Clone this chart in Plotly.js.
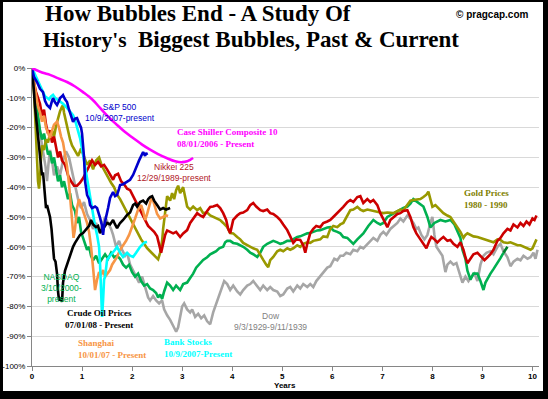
<!DOCTYPE html>
<html><head><meta charset="utf-8">
<script src="https://cdn.plot.ly/plotly-3.0.1.min.js"></script>
<style>
html,body{margin:0;padding:0;background:#000;width:548px;height:399px;overflow:hidden;}
#chart{position:absolute;left:3px;top:2px;width:540px;height:389px;background:#fff;}
</style></head>
<body><div id="chart"></div>
<script>
// ---- data: [years after peak, % change from peak] ----
const yTickVals = [0,-10,-20,-30,-40,-50,-60,-70,-80,-90,-100];
const yTickText = ['0%','-10%','-20%','-30%','-40%','-50%','-60%','-70%','-80%','-90%','-100%'];
const xTickVals = [0,1,2,3,4,5,6,7,8,9,10];

const dow = [[0,0],[0.04,-8],[0.1,-15],[0.16,-22],[0.22,-28],[0.27,-33],[0.3,-38],[0.33,-32],[0.36,-27.5],[0.4,-31],[0.44,-36],[0.5,-33],[0.56,-36],[0.62,-31],[0.68,-28],[0.74,-30],[0.8,-35],[0.86,-40],[0.92,-44],[0.98,-47],[1.04,-45],[1.1,-49],[1.16,-51],[1.22,-54],[1.28,-52],[1.34,-55],[1.4,-53],[1.46,-50],[1.52,-52],[1.58,-54],[1.62,-56],[1.68,-60],[1.74,-58],[1.8,-61],[1.86,-63],[1.9,-62],[1.96,-66],[2.02,-68],[2.08,-70],[2.14,-72],[2.2,-70],[2.26,-74],[2.32,-77],[2.36,-78],[2.42,-76.5],[2.48,-78],[2.54,-79],[2.6,-78],[2.64,-81],[2.7,-83],[2.76,-84.5],[2.82,-86.5],[2.88,-88.5],[2.92,-87],[2.96,-84],[3.0,-80],[3.04,-79],[3.1,-81],[3.16,-82],[3.2,-81],[3.26,-83.5],[3.32,-82.5],[3.38,-84],[3.44,-83],[3.5,-85],[3.56,-86],[3.62,-82],[3.68,-79],[3.72,-77],[3.78,-74],[3.84,-71.5],[3.9,-72.5],[3.96,-74.5],[4.02,-73],[4.1,-75],[4.16,-76],[4.22,-74.5],[4.3,-73],[4.36,-72.5],[4.42,-71.5],[4.5,-73],[4.56,-74.5],[4.62,-73],[4.7,-74.5],[4.76,-73.5],[4.82,-74.5],[4.9,-75],[4.96,-76.5],[5.02,-76],[5.1,-74],[5.16,-73.5],[5.22,-75],[5.3,-73],[5.36,-74],[5.42,-72.5],[5.5,-73.5],[5.56,-72.5],[5.62,-73.5],[5.68,-71.5],[5.76,-70],[5.82,-68.5],[5.9,-67],[5.96,-66.5],[6.04,-64],[6.1,-64.5],[6.16,-63],[6.22,-63],[6.28,-62],[6.36,-62.5],[6.42,-61],[6.5,-61.5],[6.56,-60],[6.62,-60.5],[6.7,-59],[6.76,-58],[6.82,-57],[6.9,-58],[6.96,-56],[7.02,-55],[7.08,-56],[7.16,-54],[7.22,-53],[7.3,-52],[7.36,-50.5],[7.42,-51.5],[7.5,-49.5],[7.56,-50.5],[7.62,-52],[7.68,-54],[7.72,-53.5],[7.78,-56],[7.84,-57.5],[7.9,-56],[7.96,-52],[8.0,-50],[8.04,-56],[8.08,-60],[8.14,-61.5],[8.2,-63],[8.26,-68.5],[8.3,-66],[8.36,-65],[8.42,-66],[8.48,-65.5],[8.54,-69],[8.6,-72],[8.66,-70],[8.72,-71.5],[8.78,-70],[8.84,-69],[8.9,-71.5],[8.96,-66],[9.02,-63],[9.08,-62],[9.16,-61.5],[9.22,-62.5],[9.3,-60],[9.36,-59],[9.42,-61.5],[9.5,-63.5],[9.56,-66.5],[9.62,-65],[9.7,-64],[9.76,-64.5],[9.82,-63],[9.9,-64],[9.96,-63.5],[10.02,-62],[10.06,-64],[10.1,-61]];

const nasdaq = [[0,0],[0.04,-6],[0.08,-12],[0.12,-16],[0.16,-21],[0.2,-24],[0.24,-22],[0.28,-26],[0.32,-29],[0.36,-28],[0.4,-32],[0.44,-30],[0.48,-34],[0.52,-38],[0.56,-36],[0.6,-40],[0.64,-38],[0.68,-41],[0.72,-44],[0.76,-42],[0.8,-46],[0.86,-48],[0.9,-52],[0.94,-50],[0.98,-55],[1.02,-57],[1.06,-59],[1.1,-61],[1.14,-60],[1.18,-63],[1.22,-64.5],[1.28,-63],[1.34,-65.5],[1.4,-64],[1.46,-62.5],[1.52,-64],[1.58,-62],[1.64,-63.5],[1.7,-63],[1.76,-64],[1.82,-66],[1.88,-67],[1.94,-66],[2.0,-68.5],[2.06,-70],[2.12,-69],[2.18,-71.5],[2.24,-73],[2.3,-72.5],[2.36,-74],[2.42,-74.5],[2.48,-75.5],[2.52,-77],[2.56,-76],[2.6,-77.5],[2.64,-75],[2.7,-72],[2.76,-73],[2.82,-74.5],[2.88,-73],[2.96,-74.5],[3.02,-72.5],[3.1,-72],[3.16,-70.5],[3.22,-69],[3.28,-67],[3.34,-66],[3.42,-64.4],[3.5,-63.5],[3.56,-62.5],[3.62,-62],[3.68,-61.5],[3.74,-60.5],[3.82,-60],[3.86,-58.5],[3.9,-58],[3.96,-58],[4.02,-58.7],[4.1,-59],[4.16,-59.5],[4.22,-60],[4.3,-61],[4.36,-62],[4.42,-62.5],[4.5,-63.4],[4.56,-62],[4.62,-60],[4.7,-59],[4.76,-58.5],[4.82,-58],[4.9,-58.5],[4.96,-59],[5.02,-58.7],[5.1,-58],[5.16,-58],[5.22,-57.5],[5.3,-56.7],[5.36,-56.5],[5.42,-56],[5.5,-55.5],[5.56,-55.4],[5.62,-55],[5.7,-54.5],[5.76,-54.4],[5.82,-54],[5.9,-53.5],[5.96,-53.4],[6.02,-54.5],[6.1,-55],[6.16,-55.5],[6.22,-56.7],[6.3,-57],[6.36,-58],[6.42,-59],[6.5,-57.5],[6.56,-56.5],[6.62,-55.5],[6.72,-53],[6.82,-51],[6.9,-52],[6.96,-52.5],[7.02,-52],[7.1,-50],[7.2,-49],[7.3,-48],[7.42,-47],[7.5,-46.5],[7.56,-45.5],[7.62,-44],[7.7,-45],[7.76,-45.5],[7.82,-46.5],[7.9,-50],[7.96,-53.5],[8.04,-52],[8.1,-51.5],[8.16,-51],[8.26,-51.5],[8.36,-51],[8.44,-52.5],[8.5,-54.5],[8.56,-57],[8.6,-61],[8.66,-64],[8.7,-68],[8.76,-71],[8.82,-69],[8.9,-69],[8.96,-71.5],[9.02,-74.5],[9.06,-72],[9.12,-70],[9.16,-69],[9.22,-67.5],[9.3,-65.5],[9.36,-63.8],[9.42,-62]];
const nasdaqLatest = [[9.42,-62],[9.46,-61],[9.5,-60]];

const nikkei = [[0,0],[0.04,-5],[0.08,-8],[0.12,-10],[0.16,-12],[0.2,-16],[0.24,-14],[0.28,-19],[0.32,-22],[0.36,-21],[0.4,-25],[0.44,-23],[0.48,-27],[0.52,-30],[0.56,-28],[0.6,-31],[0.66,-32.5],[0.72,-36],[0.78,-38],[0.84,-39.5],[0.9,-39.5],[0.96,-38.5],[1.02,-37],[1.08,-35],[1.14,-33],[1.2,-31],[1.26,-32.5],[1.32,-31.5],[1.38,-33],[1.44,-32.5],[1.5,-34],[1.56,-36],[1.62,-37.5],[1.66,-36],[1.72,-35.5],[1.78,-38],[1.84,-39],[1.9,-40.5],[1.96,-41],[2.02,-43],[2.08,-45],[2.14,-47],[2.2,-49.5],[2.26,-51],[2.32,-53],[2.38,-54],[2.44,-55],[2.5,-56.5],[2.54,-59],[2.58,-62],[2.62,-59],[2.66,-56],[2.7,-54.5],[2.76,-55],[2.82,-55.5],[2.88,-55],[2.96,-56.7],[3.02,-55.5],[3.1,-54.4],[3.16,-52],[3.22,-50.5],[3.3,-48.7],[3.36,-49.5],[3.42,-50],[3.5,-48],[3.56,-46.6],[3.62,-46.5],[3.7,-46],[3.76,-47],[3.82,-48.7],[3.88,-51],[3.92,-54],[3.96,-55.4],[4.02,-51],[4.1,-49.5],[4.16,-48.7],[4.22,-48.5],[4.3,-47.7],[4.36,-46],[4.42,-45.3],[4.48,-46.5],[4.56,-47.7],[4.62,-48],[4.7,-47.5],[4.76,-48.7],[4.82,-49],[4.9,-50],[4.96,-51],[5.02,-52.5],[5.1,-54.4],[5.16,-56.5],[5.22,-58.7],[5.28,-57.5],[5.36,-57.7],[5.42,-59.5],[5.46,-62],[5.5,-59],[5.56,-55.4],[5.62,-54],[5.68,-53],[5.76,-53.4],[5.82,-52],[5.9,-51.5],[5.96,-51],[6.02,-50],[6.1,-48.7],[6.16,-47.5],[6.22,-46.6],[6.3,-45],[6.36,-44.3],[6.42,-45],[6.5,-43.3],[6.56,-43],[6.62,-45.3],[6.7,-44],[6.76,-45],[6.82,-44.3],[6.9,-46],[6.96,-48.7],[7.02,-50.5],[7.1,-53.4],[7.16,-51],[7.22,-50],[7.3,-49],[7.36,-48.7],[7.42,-48],[7.5,-47.7],[7.56,-50],[7.62,-53.4],[7.68,-55.5],[7.74,-57],[7.82,-59],[7.88,-60.5],[7.94,-58],[7.98,-56.7],[8.04,-57.5],[8.1,-58.5],[8.16,-57.5],[8.22,-56.7],[8.3,-58],[8.36,-57.7],[8.42,-59],[8.5,-60],[8.56,-58.5],[8.62,-61],[8.66,-63.5],[8.7,-65.5],[8.76,-64],[8.82,-62.5],[8.9,-62],[8.96,-63],[9.04,-64.5],[9.1,-63.5],[9.16,-62.5],[9.22,-61],[9.3,-58],[9.36,-57],[9.42,-55.5],[9.5,-54],[9.56,-54.5],[9.62,-52.5],[9.7,-53.5],[9.76,-52],[9.82,-53],[9.88,-51.5],[9.94,-52.5],[10.0,-50.5],[10.04,-51],[10.08,-49.5]];

const gold = [[0,0],[0.02,-3],[0.04,-8],[0.06,-15],[0.08,-25],[0.1,-33],[0.12,-38],[0.14,-40.5],[0.16,-37],[0.18,-30],[0.2,-26],[0.24,-27.5],[0.28,-24],[0.32,-25],[0.36,-22],[0.4,-21],[0.44,-23],[0.48,-19.5],[0.52,-17],[0.56,-14.5],[0.6,-13],[0.62,-12.5],[0.64,-15],[0.68,-18],[0.72,-21.5],[0.76,-24],[0.8,-26],[0.86,-28],[0.92,-29.5],[0.98,-27],[1.04,-30],[1.1,-32.5],[1.16,-31],[1.22,-34],[1.28,-31],[1.34,-30],[1.4,-33],[1.46,-35],[1.52,-37],[1.58,-38.5],[1.64,-40],[1.7,-42.5],[1.76,-44],[1.82,-46],[1.88,-47.5],[1.94,-49.5],[2.0,-51.5],[2.06,-54],[2.12,-56],[2.18,-57.5],[2.24,-59],[2.3,-60.5],[2.36,-61.5],[2.42,-62.5],[2.48,-63.5],[2.52,-64.2],[2.56,-62],[2.6,-58],[2.62,-54],[2.66,-48],[2.7,-43],[2.76,-44.5],[2.8,-42],[2.84,-44],[2.88,-41],[2.92,-39.5],[2.96,-42],[3.02,-40],[3.06,-43],[3.1,-46.5],[3.16,-47.5],[3.22,-46.5],[3.3,-47.7],[3.36,-47],[3.42,-48.7],[3.5,-48.5],[3.56,-49.5],[3.62,-50],[3.7,-50.5],[3.76,-51],[3.82,-52],[3.9,-53.4],[3.96,-55.4],[4.02,-55.5],[4.1,-56.7],[4.16,-57.5],[4.22,-58.7],[4.3,-59.5],[4.36,-60],[4.42,-60.5],[4.5,-61],[4.56,-62.5],[4.62,-64.4],[4.68,-66],[4.72,-66.8],[4.76,-64.5],[4.82,-63.4],[4.9,-61.5],[4.96,-61],[5.02,-61.5],[5.1,-60.5],[5.16,-61],[5.22,-60.5],[5.3,-59.5],[5.36,-60],[5.42,-59],[5.5,-58.5],[5.56,-58.7],[5.62,-58],[5.7,-57.7],[5.76,-57.5],[5.82,-56.5],[5.9,-56.7],[5.96,-54],[6.02,-53],[6.1,-53.4],[6.16,-52.5],[6.22,-52],[6.3,-49.5],[6.36,-47.7],[6.42,-47.5],[6.5,-46.6],[6.56,-47.5],[6.62,-48],[6.7,-47.5],[6.82,-48],[6.9,-48.5],[6.96,-48.5],[7.02,-48.7],[7.1,-48.5],[7.22,-48.7],[7.3,-48],[7.36,-47.5],[7.42,-47.7],[7.5,-46],[7.56,-44.5],[7.62,-44.3],[7.7,-44],[7.76,-44],[7.82,-43.3],[7.88,-42.5],[7.92,-41.5],[7.96,-44],[8.0,-46.6],[8.06,-46],[8.1,-46.6],[8.16,-47.5],[8.22,-48.7],[8.3,-49.5],[8.36,-50],[8.42,-51.5],[8.5,-53.4],[8.56,-55],[8.62,-57],[8.66,-56],[8.7,-55.5],[8.76,-56],[8.82,-56.5],[8.9,-56.7],[8.96,-57],[9.02,-57.5],[9.1,-57.7],[9.16,-58],[9.22,-58.5],[9.3,-57.5],[9.36,-57.7],[9.42,-58.5],[9.5,-58.7],[9.56,-58.5],[9.62,-59],[9.7,-59.5],[9.76,-59.5],[9.82,-60],[9.9,-60.5],[9.96,-61],[10.0,-60.5],[10.04,-59],[10.08,-57.5]];

const crude = [[0,0],[0.02,-3],[0.04,-8],[0.06,-13],[0.08,-16],[0.1,-19],[0.12,-23],[0.14,-27],[0.16,-29],[0.18,-33],[0.2,-36],[0.22,-35],[0.24,-40],[0.26,-44],[0.28,-47],[0.3,-46],[0.33,-48],[0.36,-50],[0.39,-54],[0.42,-60],[0.44,-64],[0.47,-65],[0.5,-69],[0.52,-75],[0.54,-78],[0.56,-77.5],[0.58,-77],[0.6,-78.5],[0.62,-72],[0.66,-68],[0.7,-66],[0.74,-63.4],[0.78,-61.5],[0.82,-60],[0.86,-58.7],[0.9,-57.5],[0.96,-56],[1.02,-55.4],[1.08,-54],[1.14,-53],[1.18,-51],[1.22,-52.5],[1.28,-53.4],[1.32,-53],[1.36,-55.4],[1.4,-54],[1.44,-53.5],[1.5,-52],[1.56,-52.5],[1.62,-51],[1.66,-52.5],[1.7,-53.7],[1.76,-52],[1.82,-51],[1.9,-49.3],[1.96,-48.5],[2.02,-46],[2.06,-45.5],[2.1,-46.5],[2.16,-45],[2.22,-44.5],[2.28,-45.5],[2.32,-44],[2.36,-43.3],[2.4,-43],[2.44,-44.5],[2.5,-46],[2.56,-47.5],[2.62,-47],[2.68,-47.5],[2.76,-47]];

const shanghai = [[0,0],[0.04,-5],[0.08,-9],[0.12,-13],[0.16,-15],[0.2,-18],[0.24,-16],[0.28,-20],[0.32,-22],[0.36,-23.5],[0.4,-21],[0.44,-19],[0.5,-18],[0.54,-20],[0.58,-23],[0.62,-25],[0.66,-29],[0.7,-33],[0.74,-39],[0.77,-45],[0.8,-52],[0.83,-57],[0.86,-54],[0.9,-47],[0.94,-44],[0.98,-46],[1.02,-48.3],[1.06,-50],[1.1,-52],[1.14,-55],[1.18,-60],[1.22,-67],[1.26,-74.5],[1.3,-71],[1.34,-68.5],[1.38,-69.5],[1.42,-67.8],[1.46,-70],[1.5,-69],[1.56,-67.8],[1.6,-66],[1.66,-64.5],[1.7,-63.4],[1.76,-61],[1.82,-59.5],[1.88,-58],[1.94,-56],[2.0,-53.5],[2.06,-50.5],[2.12,-47.5],[2.18,-46],[2.22,-48],[2.26,-51],[2.3,-49],[2.34,-46],[2.38,-44],[2.42,-44.5],[2.46,-47],[2.5,-49],[2.56,-50.5],[2.62,-50],[2.68,-49.5],[2.72,-49.7]];

const bank = [[0,0],[0.04,-1.5],[0.1,-3.5],[0.16,-6],[0.22,-8],[0.26,-9.5],[0.3,-10],[0.34,-10.5],[0.38,-9.5],[0.42,-9],[0.46,-10],[0.5,-10.5],[0.56,-11.4],[0.62,-12],[0.7,-13.4],[0.76,-14.5],[0.82,-15.8],[0.86,-17.5],[0.9,-20],[0.96,-23.5],[1.02,-29],[1.06,-33],[1.1,-37],[1.16,-43.6],[1.22,-50.3],[1.26,-53],[1.3,-56],[1.34,-60],[1.36,-66],[1.38,-75],[1.4,-83.5],[1.42,-78],[1.44,-71],[1.46,-70],[1.5,-64.4],[1.56,-63],[1.62,-62],[1.66,-61],[1.7,-60],[1.76,-62],[1.82,-63.4],[1.86,-62.5],[1.9,-62],[1.96,-63],[2.02,-63.4],[2.08,-62],[2.12,-61],[2.16,-60],[2.22,-59],[2.26,-58.5],[2.3,-58.4]];

const sp500 = [[0,0],[0.04,-3],[0.1,-4.7],[0.16,-7],[0.22,-8.1],[0.26,-11],[0.3,-12.4],[0.36,-13.4],[0.4,-11],[0.42,-10.1],[0.46,-11.5],[0.5,-12.4],[0.54,-11],[0.56,-10.1],[0.6,-9.5],[0.62,-9.1],[0.66,-10.5],[0.7,-11.4],[0.74,-14],[0.78,-16],[0.82,-18.1],[0.86,-17],[0.9,-16.8],[0.94,-18.5],[0.98,-20],[1.0,-22],[1.02,-25],[1.04,-30],[1.06,-38],[1.08,-40.3],[1.1,-42.6],[1.14,-44],[1.16,-46],[1.2,-47],[1.26,-46.5],[1.3,-47],[1.34,-49],[1.36,-50.3],[1.4,-53],[1.42,-56],[1.44,-53],[1.48,-50.3],[1.52,-47],[1.56,-43.6],[1.6,-42],[1.62,-41.6],[1.66,-43],[1.7,-42.6],[1.74,-40.5],[1.76,-39.3],[1.82,-39],[1.9,-38.3],[1.96,-37.5],[2.02,-35.9],[2.06,-34],[2.1,-32.6],[2.14,-31],[2.16,-30.2],[2.2,-29],[2.22,-28.2],[2.26,-29.5],[2.28,-28.5],[2.3,-29.2]];

const caseShiller = [[0,0],[0.2,-1.5],[0.36,-2.3],[0.5,-3.3],[0.7,-4.7],[0.86,-6.2],[1.02,-8.1],[1.2,-10.5],[1.36,-13.4],[1.52,-16.3],[1.7,-19.1],[1.86,-21.5],[2.02,-23.5],[2.2,-25.7],[2.36,-27.4],[2.52,-28.9],[2.7,-30.3],[2.86,-31.3],[3.0,-31.6],[3.1,-31.3],[3.16,-30.8],[3.22,-30.2]];

// ---- build traces ----
function tr(pts, color, w, shape){
  return {x: pts.map(p=>p[0]), y: pts.map(p=>p[1]), type:'scatter', mode:'lines',
    line:{color:color, width:w, shape: shape||'linear'}, hoverinfo:'skip', showlegend:false};
}
const traces = [
  tr(dow,'#A6A6A6',2.6),
  tr(nasdaq,'#00B050',2.6),
  tr(nasdaqLatest,'#00802B',2.6),
  tr(gold,'#999900',2.6),
  tr(nikkei,'#CC0000',2.6),
  tr(shanghai,'#F79646',2.6),
  tr(bank,'#00FFFF',2.6),
  tr(crude,'#000000',2.6),
  tr(sp500,'#0000CC',2.6),
  tr(caseShiller,'#FF00FF',2.6,'spline')
];

// pixel helpers (page coords -> paper coords of the plot area)
function PX(px){return (px-32)/507;}
function PY(py){return (366-py)/298;}
const SANS='Liberation Sans, Arial, sans-serif', SERIF='Liberation Serif, Times New Roman, serif';
function ann(text, px, py, xa, size, color, fam, bold, align){
  return {text:text, xref:'paper', yref:'paper', x:PX(px), y:PY(py), xanchor:xa, yanchor:'middle',
    showarrow:false, align:align||xa, borderpad:0,
    font:{family:fam, size:size, color:color, weight: bold?'bold':'normal'}};
}
const annotations = [
  ann('How Bubbles End - A Study Of', 44, 14, 'left', 23, '#000', SERIF, true),
  ann("History's", 42, 40, 'left', 21.5, '#000', SERIF, true),
  ann('Biggest Bubbles, Past &amp; Current', 137, 40, 'left', 23, '#000', SERIF, true),
  ann('© pragcap.com', 455, 15, 'left', 10, '#000', SANS, true),
  ann('S&amp;P 500<br>10/9/2007-present', 120, 112, 'center', 8.5, '#0000CC', SANS, false),
  ann('Case Shiller Composite 10<br>08/01/2006 - Present', 176, 138, 'left', 9, '#FF00FF', SERIF, true),
  ann('Nikkei 225<br>12/29/1989-present', 174, 172.5, 'center', 8.5, '#B0171F', SANS, false),
  ann('Gold Prices<br>1980 - 1990', 463, 199, 'left', 9, '#808000', SERIF, true),
  ann('NASDAQ<br>3/10/2000-<br>present', 61, 288, 'center', 8.5, '#00B050', SANS, false),
  ann('Crude Oil Prices<br>07/01/08 - Present', 99, 318.5, 'center', 9, '#000000', SERIF, true),
  ann('Shanghai<br>10/01/07 - Present', 77, 348.5, 'left', 9, '#F79646', SERIF, true),
  ann('Bank Stocks<br>10/9/2007-Present', 163, 348, 'left', 9, '#00FFFF', SERIF, true),
  ann('Dow<br>9/3/1929-9/11/1939', 270, 321.5, 'center', 8.5, '#7F7F7F', SANS, false),
  ann('Years', 285, 385.5, 'center', 8, '#000', SANS, true)
];

const layout = {
  width:540, height:389,
  margin:{l:29, r:4, t:66, b:25, pad:0},
  paper_bgcolor:'#fff', plot_bgcolor:'#fff',
  showlegend:false,
  xaxis:{range:[0,10.13], tickvals:xTickVals, ticktext:xTickVals.map(String),
    showgrid:false, zeroline:false, showline:true, linecolor:'#868686', linewidth:1,
    ticks:'outside', ticklen:4, tickcolor:'#868686', ticklabelstandoff:-2,
    tickfont:{family:SANS, size:8, color:'#000', weight:'bold'}, fixedrange:true},
  yaxis:{range:[-100,0], tickvals:yTickVals, ticktext:yTickText,
    showgrid:true, gridcolor:'#D9D9D9', gridwidth:1, zeroline:false,
    showline:true, linecolor:'#868686', linewidth:1,
    ticks:'outside', ticklen:4, tickcolor:'#868686',
    tickfont:{family:SANS, size:8, color:'#000'}, fixedrange:true},
  annotations: annotations
};
Plotly.newPlot('chart', traces, layout, {displayModeBar:false, staticPlot:true});
</script>
</body></html>
